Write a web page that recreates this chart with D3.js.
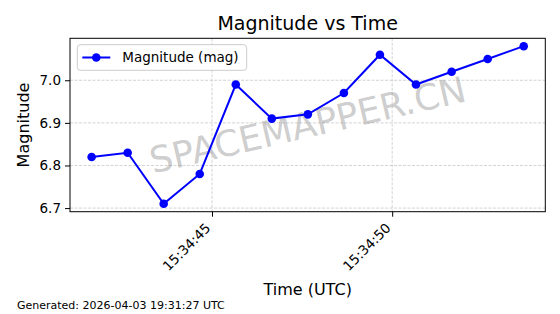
<!DOCTYPE html>
<html>
<head>
<meta charset="utf-8">
<script src="https://cdn.jsdelivr.net/npm/d3@7"></script>
<style>
    body { margin: 0; background: #fff; }
    svg { display: block; font-family: "DejaVu Sans", sans-serif; }
</style>
</head>
<body>
<div class="chart-container"></div>
<script>
const day = "2026-04-03";
const times = ["15:34:41.66", "15:34:42.66", "15:34:43.66", "15:34:44.66", "15:34:45.66", "15:34:46.66",
    "15:34:47.66", "15:34:48.66", "15:34:49.66", "15:34:50.66", "15:34:51.65", "15:34:52.65", "15:34:53.65"];
const magnitudes = [6.82, 6.83, 6.71, 6.78, 6.99, 6.91, 6.92, 6.97, 7.06, 6.99, 7.02, 7.05, 7.08];
const xTicks = ["15:34:45", "15:34:50"];
const yTicks = [6.7, 6.8, 6.9, 7.0];

const width = 560, height = 314;
const margin = { top: 38.3, right: 14.7, bottom: 102.3, left: 70 };
const innerW = width - margin.left - margin.right;
const innerH = height - margin.top - margin.bottom;

const parse = s => new Date(`${day}T${s}Z`);
const data = times.map((t, i) => ({ date: parse(t), mag: magnitudes[i] }));

const svg = d3.select(".chart-container")
    .append("svg")
    .attr("width", width)
    .attr("height", height);

const g = svg.append("g")
    .attr("transform", `translate(${margin.left}, ${margin.top})`);

// matplotlib style 5% padding
const tExt = d3.extent(data, d => d.date.getTime());
const tPad = (tExt[1] - tExt[0]) * 0.05;
const xScale = d3.scaleUtc()
    .domain([new Date(tExt[0] - tPad), new Date(tExt[1] + tPad)])
    .range([0, innerW]);

const yExt = d3.extent(magnitudes);
const yPad = (yExt[1] - yExt[0]) * 0.05;
const yScale = d3.scaleLinear()
    .domain([yExt[0] - yPad, yExt[1] + yPad])
    .range([innerH, 0]);

const xTickDates = xTicks.map(parse);

// grid
g.append("g")
    .selectAll("line")
    .data(yTicks)
    .join("line")
    .attr("x1", 0).attr("x2", innerW)
    .attr("y1", d => yScale(d)).attr("y2", d => yScale(d))
    .attr("stroke", "#b0b0b0").attr("stroke-opacity", 0.7)
    .attr("stroke-width", 0.8).attr("stroke-dasharray", "3,1.5");

g.append("g")
    .selectAll("line")
    .data(xTickDates)
    .join("line")
    .attr("y1", 0).attr("y2", innerH)
    .attr("x1", d => xScale(d)).attr("x2", d => xScale(d))
    .attr("stroke", "#b0b0b0").attr("stroke-opacity", 0.7)
    .attr("stroke-width", 0.8).attr("stroke-dasharray", "3,1.5");

// watermark (under the line)
g.append("text")
    .attr("transform", `translate(${innerW / 2}, ${innerH / 2}) rotate(-13)`)
    .attr("text-anchor", "middle")
    .attr("dominant-baseline", "central")
    .attr("font-size", 36)
    .attr("fill", "#808080")
    .attr("fill-opacity", 0.4)
    .text("SPACEMAPPER.CN");

// line + markers
const line = d3.line()
    .x(d => xScale(d.date))
    .y(d => yScale(d.mag));

g.append("path")
    .datum(data)
    .attr("d", line)
    .attr("fill", "none")
    .attr("stroke", "#0000ff")
    .attr("stroke-width", 2);

g.append("g")
    .selectAll("circle")
    .data(data)
    .join("circle")
    .attr("cx", d => xScale(d.date))
    .attr("cy", d => yScale(d.mag))
    .attr("r", 4.3)
    .attr("fill", "#0000ff");

// axes
const xAxis = d3.axisBottom(xScale)
    .tickValues(xTickDates)
    .tickSize(5)
    .tickPadding(4)
    .tickFormat(d3.utcFormat("%H:%M:%S"));

const xg = g.append("g")
    .attr("transform", `translate(0, ${innerH})`)
    .call(xAxis);
xg.select(".domain").remove();
xg.selectAll("text")
    .attr("font-size", 13.5)
    .attr("font-family", "DejaVu Sans")
    .attr("fill", "#000")
    .attr("text-anchor", "end")
    .attr("dy", null)
    .attr("dominant-baseline", "central")
    .attr("transform", "translate(-4.6, 13.6) rotate(-45)")
    .attr("y", 0).attr("x", 0);

const yAxis = d3.axisLeft(yScale)
    .tickValues(yTicks)
    .tickSize(5)
    .tickPadding(4)
    .tickFormat(d3.format(".1f"));

const yg = g.append("g").call(yAxis);
yg.select(".domain").remove();
yg.selectAll("text")
    .attr("font-size", 13.5)
    .attr("font-family", "DejaVu Sans")
    .attr("fill", "#000");
svg.selectAll(".tick line").attr("stroke", "#000").attr("stroke-width", 1);

g.append("rect")
    .attr("width", innerW).attr("height", innerH)
    .attr("fill", "none").attr("stroke", "#000").attr("stroke-width", 1);

// legend
const legend = g.append("g").attr("transform", "translate(7.3, 6.4)");
legend.append("rect")
    .attr("width", 169.4).attr("height", 25.6)
    .attr("rx", 3)
    .attr("fill", "#fff").attr("fill-opacity", 0.8)
    .attr("stroke", "#cccccc").attr("stroke-width", 1);
legend.append("line")
    .attr("x1", 5).attr("x2", 33).attr("y1", 12.8).attr("y2", 12.8)
    .attr("stroke", "#0000ff").attr("stroke-width", 2);
legend.append("circle")
    .attr("cx", 19).attr("cy", 12.8).attr("r", 4.3).attr("fill", "#0000ff");
legend.append("text")
    .attr("x", 45).attr("y", 12.8)
    .attr("dominant-baseline", "central")
    .attr("font-size", 13.5)
    .text("Magnitude (mag)");

// titles
svg.append("text")
    .attr("x", margin.left + innerW / 2).attr("y", 30)
    .attr("text-anchor", "middle")
    .attr("font-size", 19)
    .text("Magnitude vs Time");

svg.append("text")
    .attr("x", margin.left + innerW / 2).attr("y", 295)
    .attr("text-anchor", "middle")
    .attr("font-size", 16)
    .text("Time (UTC)");

svg.append("text")
    .attr("transform", `translate(29, ${margin.top + innerH / 2}) rotate(-90)`)
    .attr("text-anchor", "middle")
    .attr("font-size", 16)
    .text("Magnitude");

svg.append("text")
    .attr("x", 17).attr("y", 309)
    .attr("font-size", 11)
    .text("Generated: 2026-04-03 19:31:27 UTC");
</script>
</body>
</html>
